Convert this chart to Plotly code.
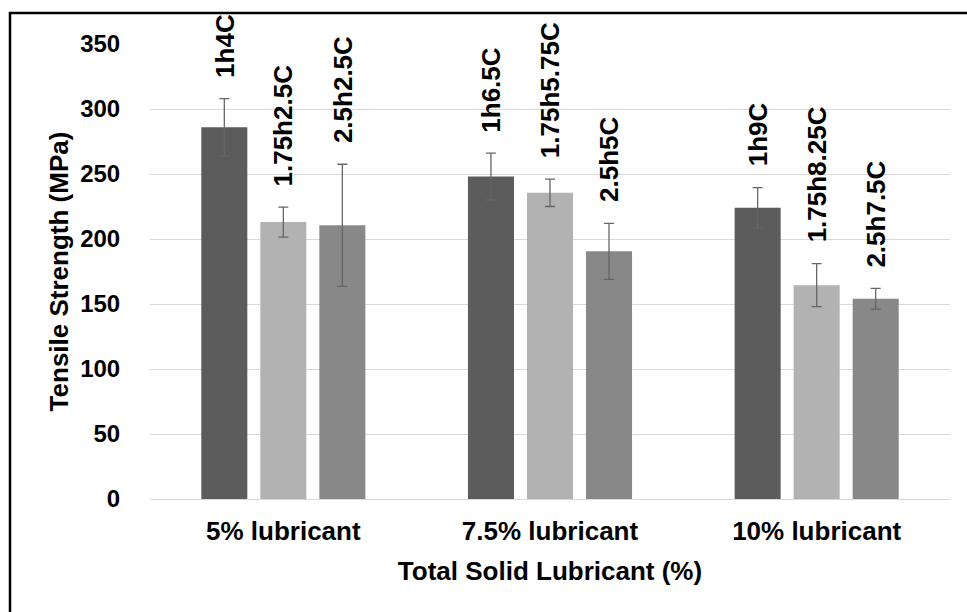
import plotly.graph_objects as go

# Tensile strength by total solid-lubricant content and processing condition
categories = ["5% lubricant", "7.5% lubricant", "10% lubricant"]

series_1_labels = ["1h4C", "1h6.5C", "1h9C"]
series_1_values = [286, 248, 224]
series_1_errors = [22, 18, 15.5]

series_2_labels = ["1.75h2.5C", "1.75h5.75C", "1.75h8.25C"]
series_2_values = [213, 235.5, 164.5]
series_2_errors = [11.5, 10.5, 16.5]

series_3_labels = ["2.5h2.5C", "2.5h5C", "2.5h7.5C"]
series_3_values = [210.5, 190.5, 154]
series_3_errors = [47, 21.5, 8]

y_ticks = [0, 50, 100, 150, 200, 250, 300, 350]

# --- layout constants -------------------------------------------------------
W, H = 967, 612
M_L, M_R, M_T, M_B = 150, 17, 44, 113
BARGAP = 0.336
BARGROUPGAP = 0.22
FONT = "Liberation Sans, Arial, sans-serif"

series = [
    (series_1_labels, series_1_values, series_1_errors, "#5c5c5c"),
    (series_2_labels, series_2_values, series_2_errors, "#b2b2b2"),
    (series_3_labels, series_3_values, series_3_errors, "#888888"),
]

fig = go.Figure()
for labels, vals, errs, color in series:
    fig.add_trace(go.Bar(
        x=categories,
        y=vals,
        marker=dict(color=color, line=dict(width=0)),
        error_y=dict(type="data", array=errs, visible=True,
                     color="#666666", thickness=1.3, width=5),
        showlegend=False,
        hoverinfo="x+y",
    ))

# rotated data labels above each error bar
plot_w = W - M_L - M_R
slot = plot_w / len(categories) * (1 - BARGAP) / len(series)
annotations = []
for s, (labels, vals, errs, _) in enumerate(series):
    for cat, lab, v, e in zip(categories, labels, vals, errs):
        annotations.append(dict(
            x=cat, y=v + e, xref="x", yref="y",
            text=lab, showarrow=False, textangle=-90,
            xanchor="center", yanchor="bottom",
            xshift=(s - (len(series) - 1) / 2) * slot, yshift=19,
            font=dict(family=FONT, size=26, color="#000000", weight="bold"),
        ))

# outer chart frame
plot_h = H - M_T - M_B
frame_left_px, frame_top_px = 10, 13
fig.add_shape(
    type="rect", xref="paper", yref="paper",
    x0=(frame_left_px - M_L) / plot_w, x1=1.2,
    y0=-0.5, y1=(H - M_B - frame_top_px) / plot_h,
    line=dict(color="#000000", width=2.5), fillcolor="rgba(0,0,0,0)",
    layer="above",
)

fig.update_layout(
    width=W, height=H,
    margin=dict(l=M_L, r=M_R, t=M_T, b=M_B, pad=0),
    paper_bgcolor="white", plot_bgcolor="white",
    barmode="group", bargap=BARGAP, bargroupgap=BARGROUPGAP,
    annotations=annotations,
    font=dict(family=FONT, color="#000000"),
    xaxis=dict(
        type="category",
        showline=True, linecolor="#d9d9d9", linewidth=1,
        showgrid=False,
        ticks="outside", ticklen=9, tickcolor="rgba(0,0,0,0)",
        tickfont=dict(family=FONT, size=26, color="#000000", weight="bold"),
        title=dict(text="Total Solid Lubricant (%)", standoff=16,
                   font=dict(family=FONT, size=26, color="#000000", weight="bold")),
    ),
    yaxis=dict(
        range=[0, 350], tickvals=y_ticks,
        showgrid=True, gridcolor="#d9d9d9", gridwidth=1,
        zeroline=False, showline=False,
        ticks="outside", ticklen=24, tickcolor="rgba(0,0,0,0)",
        tickfont=dict(family=FONT, size=24, color="#000000", weight="bold"),
        title=dict(text="Tensile Strength (MPa)", standoff=4,
                   font=dict(family=FONT, size=26, color="#000000", weight="bold")),
    ),
)

fig.write_html("out.html")
